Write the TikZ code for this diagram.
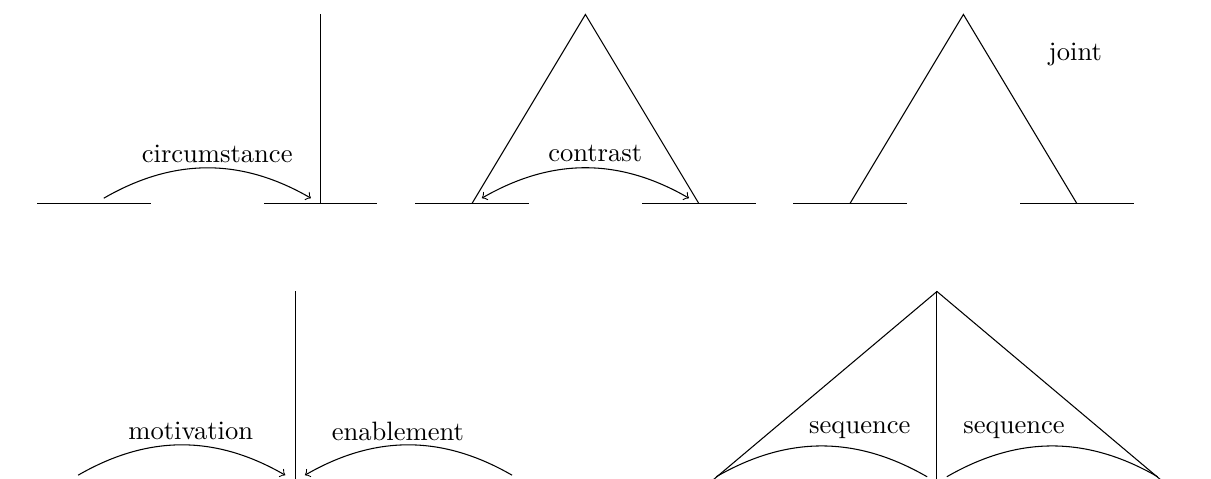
\documentclass[tikz,border=0pt]{standalone}
\begin{document}
\begin{tikzpicture}[x=1cm,y=1cm,
        lbl/.style={inner sep=0},
        arc/.style={bend left=30}]
        \useasboundingbox (-1.243,-3.6314) rectangle (14.775,2.6916);
        \foreach \x/\n in {0/a,5/b,10/c}{
            \coordinate (l\n) at (\x,0);
            \coordinate (r\n) at (\x+3,0);
            \coordinate (t\n) at (\x+1.5,2.5);
            \coordinate (s\n) at (\x+0.13,0.07);
            \coordinate (e\n) at (\x+2.87,0.07);
            \draw ([xshift=-0.75cm]l\n) -- ([xshift=0.75cm]l\n);
            \draw ([xshift=-0.75cm]r\n) -- ([xshift=0.75cm]r\n);
        }
        \coordinate (va) at (3,2.5);
        \draw (ra) -- (va);
        \draw[->] (sa) to[arc] (ea);
        \node[lbl] (circ) at (1.63,0.66) {circumstance};
        \draw (lb) -- (tb) -- (rb);
        \draw[<->] (sb) to[arc] (eb);
        \node[lbl] (contr) at (6.63,0.66) {contrast};
        \draw (lc) -- (tc) -- (rc);
        \node[lbl] (joint) at (12.98,1.97) {joint};
        % lower row
        \coordinate (mb) at (2.66,-3.664);
        \coordinate (mt) at (2.66,-1.164);
        \draw (mb) -- (mt);
        \coordinate (m1) at (-0.21,-3.594);
        \coordinate (m2) at (2.53,-3.594);
        \coordinate (n1) at (5.53,-3.594);
        \coordinate (n2) at (2.79,-3.594);
        \draw[->] (m1) to[arc] (m2);
        \draw[->] (n1) to[bend right=30] (n2);
        \node[lbl] (motiv) at (1.28,-3.01) {motivation};
        \node[lbl] (enabl) at (4.02,-3.01) {enablement};
        \coordinate (qa) at (11.15,-1.164);
        \coordinate (ql) at (8.18,-3.664);
        \coordinate (qr) at (14.12,-3.664);
        \coordinate (qb) at (11.15,-3.664);
        \draw (ql) -- (qa) -- (qr);
        \draw (qa) -- (qb);
        \coordinate (p1) at (8.23,-3.615);
        \coordinate (p2) at (11.02,-3.615);
        \coordinate (p3) at (11.28,-3.615);
        \coordinate (p4) at (14.07,-3.615);
        \draw (p1) to[arc] (p2);
        \draw (p3) to[arc] (p4);
        \node[lbl] (seqa) at (10.13,-3.0) {sequence};
        \node[lbl] (seqb) at (12.17,-3.0) {sequence};
    \end{tikzpicture}
\end{document}
